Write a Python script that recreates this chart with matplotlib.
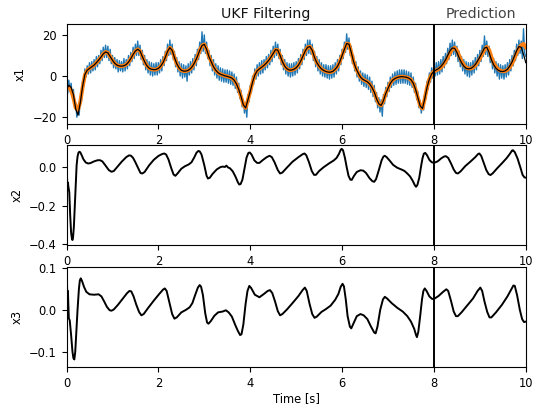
import numpy as np
import matplotlib
matplotlib.use("Agg")
import matplotlib.pyplot as plt

# ---- state x1: true trajectory and UKF estimate (sampled every 0.05 s) ----
t_x1 = np.linspace(0, 10, 201)
x1_true = [
    -6.5, -4.5, -5.5, -9.0, -16.0, -19.0, -13.0, -5.0, 0.8, 2.8,
    3.7, 4.5, 5.3, 6.5, 7.8, 9.2, 10.8, 11.7, 11.3, 9.5,
    7.7, 6.2, 5.3, 4.9, 4.8, 5.0, 5.6, 6.8, 8.5, 10.5,
    12.2, 13.0, 12.2, 9.5, 7.0, 5.0, 3.8, 3.3, 3.1, 3.2,
    3.7, 4.8, 6.5, 9.0, 12.0, 13.8, 12.5, 9.0, 6.0, 4.0,
    2.8, 2.4, 2.4, 2.8, 3.6, 5.0, 7.0, 9.5, 12.5, 14.8,
    15.4, 13.0, 9.5, 7.0, 4.5, 2.8, 1.6, 0.9, 0.5, 0.1,
    -0.2, -0.5, -1.0, -2.0, -3.8, -6.5, -10.0, -14.0, -15.5, -11.5,
    -7.5, -3.0, 0.5, 2.5, 3.5, 4.3, 5.2, 6.3, 7.6, 9.2,
    11.0, 12.8, 12.6, 10.0, 7.0, 4.8, 3.5, 2.9, 2.9, 3.3,
    4.0, 5.3, 7.3, 9.8, 12.3, 14.0, 14.3, 12.5, 9.0, 6.5,
    4.8, 3.5, 2.7, 2.2, 1.9, 1.9, 2.3, 3.3, 4.7, 7.0,
    10.0, 13.0, 15.8, 15.5, 11.5, 7.0, 3.8, 1.5, -0.5, -1.6,
    -2.2, -2.8, -3.8, -5.5, -7.8, -11.0, -13.5, -14.3, -12.0, -8.5,
    -6.0, -3.5, -2.0, -1.2, -0.7, -0.4, -0.3, -0.4, -0.6, -1.0,
    -1.8, -3.5, -6.5, -10.5, -14.5, -15.8, -11.0, -5.5, -1.5, 1.0,
    2.3, 3.0, 3.6, 4.6, 6.0, 7.8, 10.0, 12.3, 13.6, 13.5,
    11.5, 8.8, 6.5, 4.8, 3.8, 3.5, 3.7, 4.4, 5.6, 7.3,
    9.3, 11.5, 13.6, 14.0, 11.5, 8.0, 5.5, 3.8, 2.8, 2.3,
    2.2, 2.5, 3.3, 4.8, 6.8, 9.5, 12.3, 14.3, 14.0, 10.5,
    6.5,
]
x1_est = [
    -5.0, -5.5, -7.0, -10.5, -15.5, -16.5, -12.5, -5.5, 0.5, 2.8,
    3.7, 4.5, 5.3, 6.5, 7.8, 9.2, 10.8, 11.7, 11.3, 9.5,
    7.7, 6.2, 5.3, 4.9, 4.8, 5.0, 5.6, 6.8, 8.5, 10.5,
    12.2, 13.0, 12.2, 9.5, 7.0, 5.0, 3.8, 3.3, 3.1, 3.2,
    3.7, 4.8, 6.5, 9.0, 12.0, 13.8, 12.5, 9.0, 6.0, 4.0,
    2.8, 2.4, 2.4, 2.8, 3.6, 5.0, 7.0, 9.5, 12.5, 14.8,
    15.4, 13.0, 9.5, 7.0, 4.5, 2.8, 1.6, 0.9, 0.5, 0.1,
    -0.2, -0.5, -1.0, -2.0, -3.8, -6.5, -10.0, -14.0, -15.5, -11.5,
    -7.5, -3.0, 0.5, 2.5, 3.5, 4.3, 5.2, 6.3, 7.6, 9.2,
    11.0, 12.8, 12.6, 10.0, 7.0, 4.8, 3.5, 2.9, 2.9, 3.3,
    4.0, 5.3, 7.3, 9.8, 12.3, 14.0, 14.3, 12.5, 9.0, 6.5,
    4.8, 3.5, 2.7, 2.2, 1.9, 1.9, 2.3, 3.3, 4.7, 7.0,
    10.0, 13.0, 15.8, 15.5, 11.5, 7.0, 3.8, 1.5, -0.5, -1.6,
    -2.2, -2.8, -3.8, -5.5, -7.8, -11.0, -13.5, -14.3, -12.0, -8.5,
    -6.0, -3.5, -2.0, -1.2, -0.7, -0.4, -0.3, -0.4, -0.6, -1.0,
    -1.8, -3.5, -6.5, -10.5, -14.5, -15.8, -11.0, -5.5, -1.5, 1.0,
    2.3, 2.8, 3.3, 4.1, 5.3, 7.0, 9.0, 11.3, 13.0, 13.8,
    12.5, 9.8, 7.3, 5.4, 4.2, 3.7, 3.6, 4.1, 5.1, 6.6,
    8.5, 10.6, 12.8, 14.2, 12.8, 9.3, 6.4, 4.5, 3.3, 2.6,
    2.3, 2.4, 3.0, 4.2, 6.0, 8.5, 11.2, 13.6, 15.0, 15.6,
    14.0,
]

# ---- noisy measurements of x1 (every 0.025 s) ----
t_meas = np.linspace(0, 10, 401)
x1_meas = [
    -4.0, -8.5, -2.0, -7.5, -3.5, -10.5, -6.5, -15.0, -13.0, -20.0,
    -16.5, -19.0, -10.0, -12.0, -2.0, -5.0, 3.5, -0.5, 5.0, 1.0,
    6.5, 1.5, 7.0, 2.5, 8.0, 3.0, 9.5, 4.5, 10.0, 6.0,
    12.5, 7.5, 14.0, 9.0, 15.0, 9.0, 14.5, 7.5, 13.0, 6.0,
    10.0, 4.0, 9.0, 3.5, 8.0, 2.0, 7.5, 2.5, 7.0, 2.0,
    8.5, 2.5, 8.0, 3.5, 10.0, 5.0, 11.5, 7.0, 14.0, 8.5,
    15.5, 10.0, 17.0, 10.0, 15.0, 8.0, 12.5, 5.5, 10.0, 3.0,
    8.0, 1.5, 7.0, 0.5, 6.5, 0.0, 6.0, 0.5, 6.5, 0.5,
    6.5, 1.5, 8.0, 2.5, 9.5, 5.0, 12.0, 7.5, 15.5, 10.0,
    17.5, 10.5, 15.5, 8.0, 12.0, 4.5, 9.0, 2.0, 7.0, 0.0,
    6.0, -1.0, 5.5, -0.5, 5.0, -2.5, 6.0, 0.5, 7.0, 1.5,
    8.5, 3.0, 10.5, 5.0, 13.0, 8.0, 16.5, 11.0, 21.5, 12.0,
    20.0, 11.0, 16.5, 8.5, 12.5, 5.0, 10.0, 2.5, 8.0, 0.5,
    6.0, -1.0, 5.0, -2.0, 4.0, -2.5, 3.5, -3.0, 3.0, -3.0,
    3.0, -3.5, 2.5, -4.0, 2.0, -4.5, 1.0, -6.0, -0.5, -8.0,
    -3.5, -11.0, -7.0, -15.0, -11.5, -18.0, -13.0, -20.0, -9.0, -12.5,
    -4.5, -8.0, 0.0, -4.0, 3.5, -1.5, 5.5, 0.0, 6.5, 1.0,
    7.5, 1.5, 8.0, 3.0, 9.5, 4.0, 10.5, 5.5, 12.5, 7.0,
    14.5, 9.0, 16.5, 10.0, 15.5, 8.5, 13.0, 5.5, 10.0, 3.0,
    8.0, 1.0, 6.5, 0.0, 6.0, -0.5, 6.0, 0.0, 6.5, 0.5,
    7.0, 1.5, 8.5, 3.5, 10.5, 5.5, 13.0, 8.0, 15.5, 10.0,
    17.5, 11.0, 17.5, 10.5, 15.5, 7.5, 12.0, 4.5, 9.5, 2.5,
    8.0, 1.0, 6.5, 0.0, 5.5, -0.5, 5.5, -1.0, 5.0, -1.5,
    5.0, -1.0, 5.5, -0.5, 6.5, 1.0, 8.0, 2.5, 10.0, 5.5,
    13.0, 8.5, 16.5, 11.5, 20.5, 13.0, 18.5, 10.0, 14.5, 6.0,
    10.0, 2.5, 7.0, -0.5, 4.5, -2.5, 2.5, -4.0, 1.5, -5.0,
    1.0, -5.5, 0.5, -6.5, -0.5, -8.0, -2.5, -10.0, -4.5, -12.5,
    -8.0, -15.5, -10.5, -17.5, -11.5, -19.5, -9.0, -13.5, -5.5, -10.0,
    -3.0, -7.5, -0.5, -5.5, 1.0, -4.5, 2.0, -4.0, 2.5, -3.5,
    3.0, -3.5, 3.0, -3.5, 3.0, -3.5, 2.5, -4.0, 2.0, -4.5,
    1.5, -5.5, -0.5, -8.0, -3.5, -11.5, -7.5, -15.5, -12.0, -18.0,
    -13.0, -16.5, -8.0, -11.0, -2.5, -6.5, 1.5, -3.0, 4.0, -1.0,
    6.0, 0.0, 6.5, 0.5, 7.0, 1.0, 8.0, 2.0, 9.5, 4.0,
    11.0, 6.0, 13.5, 8.0, 16.0, 10.0, 17.5, 10.5, 16.5, 9.5,
    14.5, 7.0, 12.0, 4.5, 9.5, 2.5, 8.0, 1.0, 7.0, 0.0,
    6.5, -0.5, 6.5, 0.5, 7.5, 1.5, 9.0, 3.0, 10.5, 5.0,
    12.5, 7.0, 15.0, 9.5, 19.5, 10.5, 17.0, 9.5, 14.5, 6.5,
    11.0, 3.5, 8.5, 1.5, 7.0, 0.0, 6.0, -1.5, 5.5, -1.0,
    5.0, -1.5, 5.5, -0.5, 6.5, 0.5, 8.0, 2.5, 10.0, 5.0,
    12.5, 7.5, 15.5, 10.0, 17.5, 11.0, 17.0, 8.5, 23.0, 11.0,
    9.5,
]

# ---- state x2 ----
t_x2 = [
    0.00, 0.01, 0.02, 0.03, 0.04, 0.06, 0.08, 0.10, 0.12, 0.13,
    0.14, 0.16, 0.18, 0.20, 0.22, 0.24, 0.26, 0.28, 0.30, 0.33,
    0.37, 0.42, 0.47, 0.52, 0.60, 0.68, 0.73, 0.78, 0.85, 0.92,
    0.98, 1.03, 1.10, 1.20, 1.30, 1.36, 1.40, 1.45, 1.50, 1.56,
    1.61, 1.65, 1.70, 1.80, 1.90, 2.00, 2.08, 2.13, 2.17, 2.22,
    2.28, 2.33, 2.37, 2.42, 2.50, 2.58, 2.66, 2.72, 2.78, 2.83,
    2.87, 2.90, 2.94, 3.00, 3.05, 3.08, 3.12, 3.18, 3.27, 3.35,
    3.40, 3.45, 3.48, 3.52, 3.56, 3.62, 3.68, 3.73, 3.76, 3.79,
    3.83, 3.88, 3.92, 3.96, 3.99, 4.03, 4.09, 4.15, 4.20, 4.28,
    4.36, 4.42, 4.47, 4.53, 4.60, 4.65, 4.70, 4.80, 4.92, 5.05,
    5.14, 5.18, 5.22, 5.28, 5.34, 5.39, 5.43, 5.50, 5.60, 5.72,
    5.82, 5.88, 5.93, 5.97, 5.99, 6.02, 6.06, 6.10, 6.14, 6.18,
    6.21, 6.26, 6.32, 6.40, 6.46, 6.52, 6.60, 6.66, 6.70, 6.74,
    6.80, 6.86, 6.90, 6.93, 6.97, 7.05, 7.11, 7.20, 7.30, 7.36,
    7.42, 7.48, 7.54, 7.58, 7.61, 7.64, 7.68, 7.72, 7.75, 7.78,
    7.81, 7.85, 7.90, 7.95, 8.00, 8.08, 8.16, 8.22, 8.26, 8.31,
    8.37, 8.43, 8.48, 8.52, 8.58, 8.68, 8.80, 8.90, 8.96, 8.99,
    9.03, 9.08, 9.14, 9.19, 9.23, 9.28, 9.38, 9.48, 9.58, 9.65,
    9.70, 9.72, 9.76, 9.82, 9.88, 9.93, 9.97, 10.00,
]
x2 = [
    0.000, -0.040, -0.120, -0.080, -0.100, -0.130, -0.250, -0.340, -0.375, -0.378,
    -0.370, -0.310, -0.200, -0.080, 0.010, 0.055, 0.075, 0.080, 0.077, 0.062,
    0.040, 0.024, 0.019, 0.021, 0.030, 0.036, 0.036, 0.030, 0.008, -0.015,
    -0.024, -0.020, 0.000, 0.028, 0.052, 0.061, 0.060, 0.048, 0.025, -0.005,
    -0.030, -0.033, -0.025, 0.010, 0.038, 0.058, 0.068, 0.071, 0.065, 0.040,
    -0.005, -0.038, -0.045, -0.032, -0.008, 0.005, 0.014, 0.025, 0.050, 0.075,
    0.084, 0.082, 0.065, 0.010, -0.045, -0.059, -0.055, -0.035, -0.012, 0.000,
    0.003, 0.001, 0.008, -0.002, -0.006, -0.022, -0.050, -0.078, -0.090, -0.088,
    -0.065, 0.000, 0.050, 0.074, 0.076, 0.065, 0.035, 0.022, 0.022, 0.038,
    0.052, 0.059, 0.052, 0.025, -0.015, -0.033, -0.028, -0.002, 0.028, 0.052,
    0.067, 0.071, 0.062, 0.025, -0.020, -0.040, -0.040, -0.020, 0.000, 0.020,
    0.035, 0.048, 0.068, 0.090, 0.095, 0.088, 0.050, 0.000, -0.045, -0.065,
    -0.066, -0.045, -0.025, -0.016, -0.018, -0.030, -0.058, -0.073, -0.076, -0.062,
    -0.015, 0.035, 0.055, 0.059, 0.052, 0.030, 0.012, -0.003, -0.013, -0.020,
    -0.033, -0.048, -0.072, -0.092, -0.102, -0.092, -0.055, 0.005, 0.045, 0.070,
    0.074, 0.062, 0.038, 0.026, 0.022, 0.030, 0.046, 0.055, 0.057, 0.048,
    0.020, -0.012, -0.030, -0.033, -0.022, 0.005, 0.030, 0.052, 0.068, 0.071,
    0.058, 0.025, -0.015, -0.036, -0.041, -0.032, -0.005, 0.020, 0.046, 0.068,
    0.086, 0.088, 0.078, 0.045, 0.000, -0.040, -0.053, -0.055,
]

# ---- state x3 ----
t_x3 = [
    0.00, 0.01, 0.02, 0.03, 0.04, 0.05, 0.07, 0.10, 0.13, 0.15,
    0.17, 0.19, 0.21, 0.24, 0.27, 0.29, 0.31, 0.34, 0.38, 0.43,
    0.50, 0.60, 0.70, 0.76, 0.82, 0.88, 0.94, 0.98, 1.03, 1.12,
    1.22, 1.32, 1.37, 1.41, 1.46, 1.52, 1.58, 1.63, 1.68, 1.78,
    1.90, 2.02, 2.10, 2.14, 2.18, 2.24, 2.30, 2.35, 2.40, 2.50,
    2.60, 2.68, 2.74, 2.80, 2.86, 2.90, 2.93, 2.97, 3.02, 3.06,
    3.09, 3.14, 3.22, 3.30, 3.40, 3.47, 3.53, 3.60, 3.67, 3.73,
    3.78, 3.81, 3.85, 3.90, 3.94, 3.98, 4.02, 4.10, 4.20, 4.30,
    4.38, 4.43, 4.48, 4.54, 4.60, 4.65, 4.70, 4.80, 4.92, 5.05,
    5.14, 5.19, 5.23, 5.29, 5.35, 5.40, 5.45, 5.55, 5.65, 5.75,
    5.85, 5.92, 5.97, 6.01, 6.04, 6.08, 6.12, 6.17, 6.20, 6.25,
    6.32, 6.40, 6.47, 6.55, 6.63, 6.70, 6.73, 6.77, 6.83, 6.89,
    6.93, 6.98, 7.08, 7.20, 7.32, 7.42, 7.50, 7.57, 7.61, 7.63,
    7.66, 7.70, 7.74, 7.77, 7.80, 7.84, 7.90, 7.96, 8.00, 8.10,
    8.20, 8.27, 8.31, 8.37, 8.43, 8.48, 8.52, 8.60, 8.72, 8.85,
    8.95, 9.01, 9.05, 9.10, 9.16, 9.21, 9.25, 9.35, 9.48, 9.60,
    9.68, 9.73, 9.76, 9.81, 9.87, 9.92, 9.96, 10.00,
]
x3 = [
    0.095, 0.060, 0.030, 0.045, 0.010, -0.020, -0.025, -0.060, -0.100, -0.115,
    -0.118, -0.100, -0.060, 0.000, 0.050, 0.070, 0.075, 0.068, 0.055, 0.043,
    0.037, 0.036, 0.037, 0.032, 0.020, 0.007, -0.001, -0.002, 0.001, 0.012,
    0.026, 0.040, 0.045, 0.044, 0.032, 0.012, -0.005, -0.013, -0.010, 0.005,
    0.022, 0.038, 0.048, 0.051, 0.045, 0.018, -0.010, -0.021, -0.018, -0.006,
    0.000, 0.006, 0.016, 0.035, 0.053, 0.059, 0.055, 0.035, -0.008, -0.030,
    -0.033, -0.027, -0.014, -0.006, -0.004, -0.001, -0.006, -0.016, -0.035, -0.050,
    -0.060, -0.058, -0.035, 0.015, 0.045, 0.057, 0.052, 0.036, 0.030, 0.038,
    0.045, 0.047, 0.040, 0.020, -0.003, -0.013, -0.010, 0.001, 0.016, 0.033,
    0.047, 0.053, 0.045, 0.015, -0.010, -0.019, -0.016, -0.005, 0.002, 0.010,
    0.024, 0.038, 0.055, 0.062, 0.056, 0.025, -0.015, -0.040, -0.044, -0.032,
    -0.015, -0.010, -0.013, -0.022, -0.040, -0.054, -0.056, -0.040, 0.000, 0.025,
    0.031, 0.027, 0.016, 0.005, -0.004, -0.015, -0.028, -0.045, -0.060, -0.065,
    -0.052, -0.015, 0.025, 0.045, 0.051, 0.045, 0.032, 0.026, 0.026, 0.033,
    0.043, 0.049, 0.045, 0.022, -0.004, -0.015, -0.015, -0.006, 0.010, 0.027,
    0.045, 0.053, 0.045, 0.020, -0.005, -0.018, -0.018, -0.006, 0.012, 0.032,
    0.048, 0.058, 0.057, 0.035, 0.000, -0.022, -0.029, -0.028,
]

t_switch = 8.0
y_ticks = [[-20, 0, 20], [-0.4, -0.2, 0.0], [-0.1, 0.0, 0.1]]
y_limits = [(-23.3, 25.3), (-0.404, 0.115), (-0.136, 0.102)]
y_labels = ["x1", "x2", "x3"]

plt.rcParams["font.size"] = 8.3
fig = plt.figure(figsize=(5.33, 4.04), dpi=100)
left, width, height = 0.1248, 0.8617, 0.2475
bottoms = [0.6931, 0.3936, 0.0916]
axes = [fig.add_axes([left, b, width, height]) for b in bottoms]

ax = axes[0]
ax.plot(t_meas, x1_meas, color="#1f77b4", lw=1.0)
ax.plot(t_x1, x1_est, color="#ff7f0e", lw=2.8)
ax.plot(t_x1, x1_true, color="black", lw=0.9)
axes[1].plot(t_x2, x2, color="black", lw=1.4)
axes[2].plot(t_x3, x3, color="black", lw=1.4)

for ax, yt, yl, lab in zip(axes, y_ticks, y_limits, y_labels):
    ax.axvline(t_switch, color="black", lw=1.4)
    ax.set_xlim(0, 10)
    ax.set_ylim(*yl)
    ax.set_yticks(yt)
    ax.set_xticks([0, 2, 4, 6, 8, 10])
    ax.set_ylabel(lab)

axes[2].set_xlabel("Time [s]", labelpad=1.5)

fig.text(266 / 533, 1 - 18 / 404, "UKF Filtering", ha="center", va="baseline",
         fontsize=10.2, color="#111111")
fig.text(481 / 533, 1 - 18 / 404, "Prediction", ha="center", va="baseline",
         fontsize=10.2, color="#444444")

fig.savefig("out.png", dpi=100)
